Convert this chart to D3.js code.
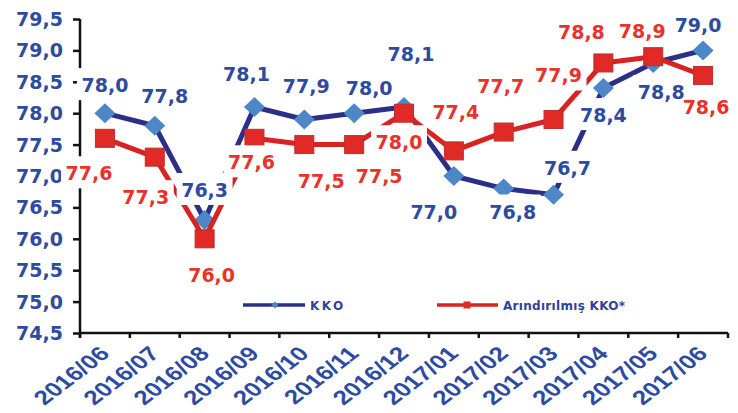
<!DOCTYPE html>
<html>
<head>
<meta charset="utf-8">
<script src="https://cdn.jsdelivr.net/npm/d3@7/dist/d3.min.js"></script>
<style>
  html, body { margin: 0; padding: 0; background: #fff; }
  svg { display: block; }
  text { font-family: "DejaVu Sans", sans-serif; font-weight: bold; }
</style>
</head>
<body>
<svg id="chart" width="738" height="413"></svg>
<script>
// ---- data ----
const categories = ["2016/06","2016/07","2016/08","2016/09","2016/10","2016/11","2016/12",
                    "2017/01","2017/02","2017/03","2017/04","2017/05","2017/06"];
const kko =          [78.0, 77.8, 76.3, 78.1, 77.9, 78.0, 78.1, 77.0, 76.8, 76.7, 78.4, 78.8, 79.0];
const arindirilmis = [77.6, 77.3, 76.0, 77.6, 77.5, 77.5, 78.0, 77.4, 77.7, 77.9, 78.8, 78.9, 78.6];
const yTicks = [74.5, 75.0, 75.5, 76.0, 76.5, 77.0, 77.5, 78.0, 78.5, 79.0, 79.5];
const seriesNames = ["KKO", "Arındırılmış KKO*"];

// ---- layout (label placement offsets in px, relative to the point) ----
const kkoLabelOffsets = [[0,-28],[10,-30],[0,-30],[-8,-33],[2,-33],[15,-25],[7,-53],
                         [-20,36],[9,23],[14,-27],[0,27],[8,29],[-5,-25]];
const arLabelOffsets  = [[-16,35],[-9,40],[7,36],[-3,24],[17,36],[25,31],[-5,29],
                         [2,-39],[-3,-46],[5,-44],[-22,-31],[-11,-26],[3,31]];

const fmt = v => d3.format(".1f")(v).replace(".", ",");

const C = {
  blueText: "#2E4C9F",
  redText: "#E8322B",
  navy: "#2B2F86",
  diamond: "#4D87C7",
  red: "#D92222",
  square: "#E12A26",
  squareStroke: "#B8312E",
  legendText: "#34409A"
};

const svg = d3.select("#chart");
const mLeft = 80, mRight = 728, mTop = 19, mBottom = 333;

const x = d3.scaleBand().domain(categories).range([mLeft, mRight]).padding(0);
const y = d3.scaleLinear().domain([74.5, 79.5]).range([mBottom, mTop]);
const cx = d => x(d) + x.bandwidth() / 2;

svg.append("rect").attr("width", 738).attr("height", 413).attr("fill", "#fff");

// axes
const yAxis = d3.axisLeft(y).tickValues(yTicks).tickSize(7).tickFormat("");
const gy = svg.append("g").attr("transform", `translate(${mLeft},0)`).call(yAxis);
gy.select(".domain").attr("stroke", "#111").attr("stroke-width", 2.5).attr("d", `M0,${mTop}V${mBottom + 4}`);
gy.selectAll(".tick line").attr("stroke", "#111").attr("stroke-width", 2.5);

const xAxis = d3.axisBottom(x).tickSize(0).tickFormat("");
const gx = svg.append("g").attr("transform", `translate(0,${mBottom})`).call(xAxis);
gx.select(".domain").attr("stroke", "#111").attr("stroke-width", 2.5).attr("d", `M${mLeft - 1},0H${mRight}`);
gx.selectAll(".tick").remove();
const bounds = categories.map(c => x(c)).concat([mRight]);
gx.selectAll("line.bt").data(bounds).enter().append("line")
  .attr("x1", d => d).attr("x2", d => d).attr("y1", 0).attr("y2", 5)
  .attr("stroke", "#111").attr("stroke-width", 2.5);

// y tick labels
svg.append("g").selectAll("text").data(yTicks).enter().append("text")
  .attr("x", 63).attr("y", d => y(d) + 7)
  .attr("text-anchor", "end").attr("font-size", 19).attr("fill", C.blueText)
  .text(d => fmt(d));

// x tick labels (horizontally stretched, rotated)
svg.append("g").selectAll("text").data(categories).enter().append("text")
  .attr("transform", d => `translate(${cx(d) + 6},${mBottom + 22}) scale(1.3,1) rotate(-45)`)
  .attr("text-anchor", "end").attr("font-size", 20)
  .style("font-family", "'Liberation Sans', Arial, sans-serif")
  .attr("fill", C.blueText)
  .text(d => d);

// lines
const line = d3.line().x((d, i) => cx(categories[i])).y(d => y(d));
const diamondPath = (w, h) => `M0,${-h/2}L${w/2},0L0,${h/2}L${-w/2},0Z`;

svg.append("path").datum(kko).attr("d", line).attr("fill", "none")
  .attr("stroke", C.navy).attr("stroke-width", 5).attr("stroke-linejoin", "round");
svg.append("g").selectAll("path").data(kko).enter().append("path")
  .attr("transform", (d, i) => `translate(${cx(categories[i])},${y(d)})`)
  .attr("d", diamondPath(21, 20)).attr("fill", C.diamond);

svg.append("path").datum(arindirilmis).attr("d", line).attr("fill", "none")
  .attr("stroke", C.red).attr("stroke-width", 5).attr("stroke-linejoin", "round");
svg.append("g").selectAll("rect").data(arindirilmis).enter().append("rect")
  .attr("x", (d, i) => cx(categories[i]) - 9.5).attr("y", d => y(d) - 9)
  .attr("width", 19).attr("height", 18)
  .attr("fill", C.square).attr("stroke", C.squareStroke).attr("stroke-width", 1);

// data labels with white boxes
const labels = [];
kko.forEach((v, i) => labels.push({v, x: cx(categories[i]) + kkoLabelOffsets[i][0], y: y(v) + kkoLabelOffsets[i][1], c: C.blueText}));
arindirilmis.forEach((v, i) => labels.push({v, x: cx(categories[i]) + arLabelOffsets[i][0], y: y(v) + arLabelOffsets[i][1], c: C.redText}));

const gBoxes = svg.append("g");
const gText = svg.append("g");
labels.forEach(l => {
  const t = gText.append("text").attr("x", l.x).attr("y", l.y + 7)
    .attr("text-anchor", "middle").attr("font-size", 19).attr("fill", l.c).text(fmt(l.v));
  const w = t.node().getComputedTextLength();
  gBoxes.append("rect").attr("x", l.x - w / 2 - 4.5).attr("y", l.y - 17)
    .attr("width", w + 9).attr("height", 32).attr("fill", "#fff");
});

// legend
const lg = svg.append("g");
lg.append("line").attr("x1", 243).attr("x2", 305).attr("y1", 305).attr("y2", 305)
  .attr("stroke", C.navy).attr("stroke-width", 3.5);
lg.append("path").attr("transform", "translate(275,305)").attr("d", diamondPath(7, 7)).attr("fill", C.diamond);
lg.append("text").attr("x", 310).attr("y", 310).attr("font-size", 12).attr("letter-spacing", 2.5)
  .attr("fill", C.legendText).text(seriesNames[0]);

lg.append("line").attr("x1", 437).attr("x2", 498).attr("y1", 305).attr("y2", 305)
  .attr("stroke", C.red).attr("stroke-width", 3.5);
lg.append("rect").attr("x", 463.5).attr("y", 301.5).attr("width", 7).attr("height", 7).attr("fill", C.square);
lg.append("text").attr("x", 503).attr("y", 310).attr("font-size", 12).attr("letter-spacing", 0.3)
  .attr("fill", C.legendText).text(seriesNames[1]);
</script>
</body>
</html>
